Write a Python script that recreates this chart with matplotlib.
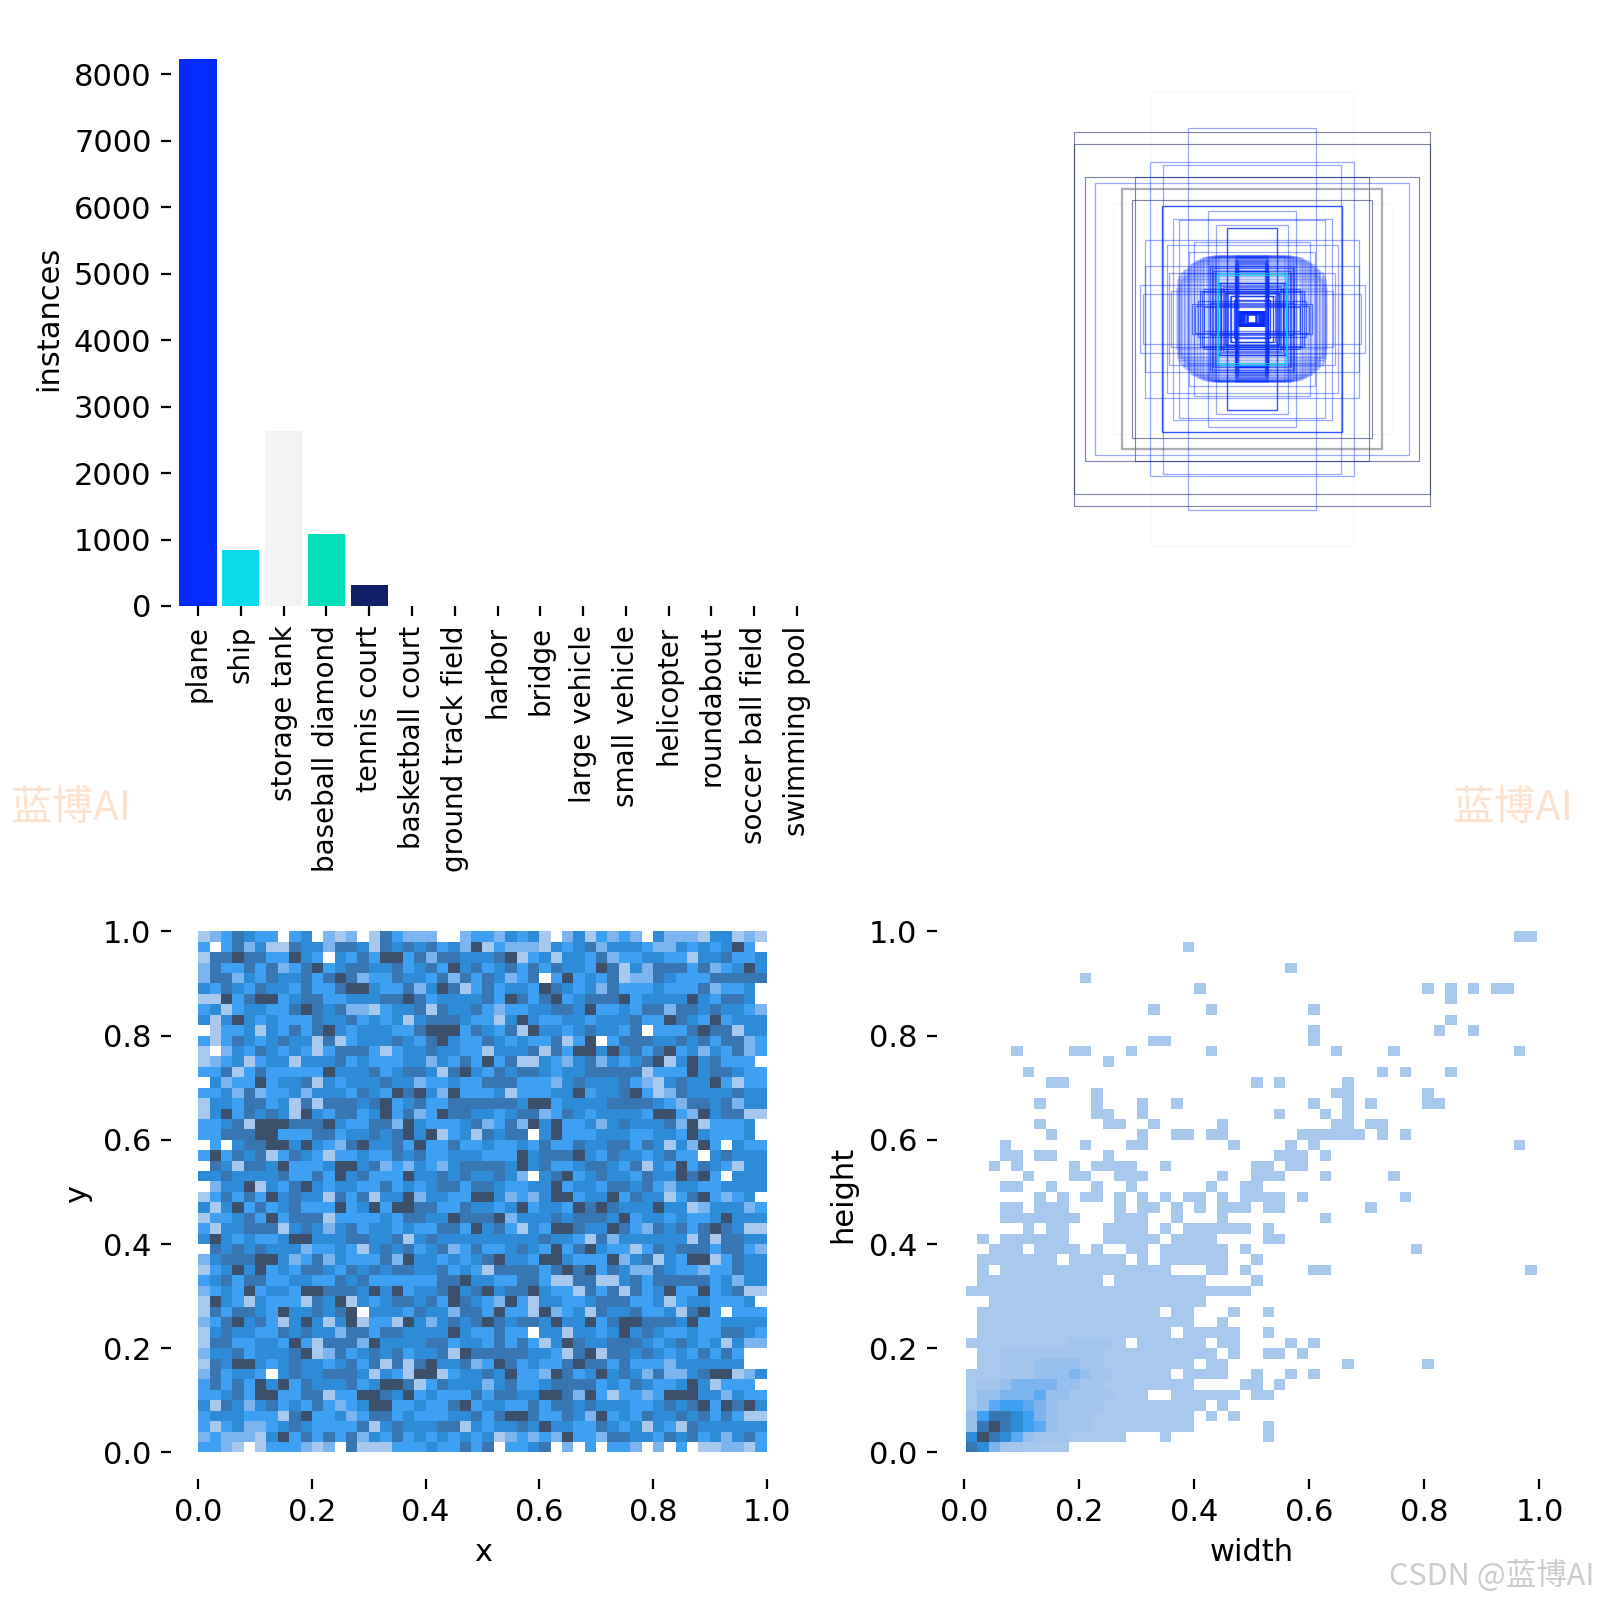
import matplotlib
matplotlib.use("Agg")
import matplotlib.pyplot as plt
import numpy as np
from matplotlib.colors import ListedColormap
from matplotlib.patches import Rectangle

plt.rcParams["font.size"] = 11

names = ["plane", "ship", "storage tank", "baseball diamond", "tennis court", "basketball court",
         "ground track field", "harbor", "bridge", "large vehicle", "small vehicle", "helicopter",
         "roundabout", "soccer ball field", "swimming pool"]
instances = [8233, 850, 2630, 1085, 320, 0, 0, 0, 0, 0, 0, 0, 0, 0, 0]
bar_colors = ["#042AFF", "#0BDBEB", "#F3F3F3", "#00DFB7", "#111F68"] + ["#042AFF"] * 10

# x/y histogram, darkness level per cell, top row first
xy_rows = [
    "1468766067 0414018644 4004 664767 1047164640 7444177141",
    "6068471187 7488718787 8674 916444 1767847776 4476767960",
    "1889886697 6076869968 4887 778916 7177684667 7661778667",
    "4866868468 9678877867 8697 867868 6877698174 8886846797",
    "4884768778 6898466877 6848 687468 0696768144 8766688888",
    "7687687768 6689976684 7981 686776 9876748666 7666846670",
    "1196899678 8667778898 6777 786986 8967888967 7779768870",
    "6716776689 8784416778 1877 864667 7887966768 8488787764",
    "7179767666 8778676717 8887 661797 6677677786 6987696777",
    "0166717686 8976777668 9996 876819 7767877680 6668988177",
    "6168767877 1816777876 8976 687676 6816906888 7787868846",
    "1047687676 1688861677 8776 617778 1869979786 8967476846",
    "1467167717 7786766677 4768 696811 7647847678 9179786660",
    "6681686666 6977786788 7189 768788 7677888881 6669788766",
    "0746696778 1767778774 6676 688866 6478777864 1787796166",
    "6674846674 7776876989 7496 667166 6779677896 1487777877",
    "1776886718 1888789678 6688 888879 9677778888 7648878477",
    "1796878719 7688679684 6988 776788 4687677776 9964978811",
    "6678199988 8976688497 6667 846849 7966747877 7849166670",
    "6688899666 8867787897 9167 187880 7966677766 7769766670",
    "0607889979 7648977869 6686 676676 8668778868 7174960766",
    "6968781687 6166766878 6677 766697 8889768776 7866078777",
    "0871887966 6799784647 6478 888797 8667887681 7696876177",
    "7787777866 8697866697 7878 778740 7896787768 7798960777",
    "0477917689 7677668676 7886 887667 7967768878 6477667777",
    "1686869787 7186817794 7766 997464 7996779687 7168964670",
    "7179686786 6696796998 8668 776796 7769898777 9771477746",
    "1667869688 8166667688 7798 889477 7878887967 7676679777",
    "6177888178 7478677676 6886 978617 6998779864 8786898711",
    "7976766799 7778877817 8777 777777 8776184777 7771818877",
    "0878787774 6676178786 7846 866787 6968976616 8788868864",
    "4788899746 8476668497 7676 789776 9976669478 1769916877",
    "1679796768 8768787887 7867 618888 6898968744 8766466877",
    "6786886677 6687866666 6889 776688 6118811786 8888867477",
    "4676967769 9888797967 7897 897889 7661868186 7966967811",
    "1976176661 8791767887 8698 764961 7766788866 7167766670",
    "1868876977 8789077768 7748 869661 9467187786 6718960666",
    "4689786179 7179166197 4787 898788 7977968998 8879667777",
    "1787766878 7748868877 7797 668660 7717767978 7667668876",
    "1886677696 1888497777 8867 768686 1798778887 6787671744",
    "4778677789 1486787867 7819 888887 7618918878 7676868600",
    "1879976787 7678681818 9778 469867 6689886866 6477777700",
    "4867760787 7888717619 9167 787966 4986797874 8447899147",
    "6868697968 7778679981 6877 747866 7888867687 6679716660",
    "6678699668 8166998796 7666 868877 9984961664 6999774766",
    "7187478676 8646799667 6689 677668 6887877766 7878969897",
    "6777666189 6674688676 6677 868998 6687496768 7787868611",
    "6167446787 6666817877 7881 767787 9776687671 7618777777",
    "4644417968 6868476867 6767 671464 6496648877 6878674786",
    "6641016664 1408111666 7668 680667 8040606640 4060114416",
]

# width/height histogram, same levels, top row first
wh_rows = [
    ".......... .......... .......... .......... ........11",
    ".......... .........1 .......... .......... ..........",
    ".......... .......... .......... .......... ..........",
    ".......... .......... ........1. .......... ..........",
    ".......... 1......... .......... .......... ..........",
    ".......... .......... 1......... .......... 1.1.1.11..",
    ".......... .......... .......... .......... ..1.......",
    ".......... ......1... .1........ 1......... ..........",
    ".......... .......... .......... .......... ..1.......",
    ".......... .......... .......... 1......... .1..1.....",
    ".......... ......11.. .......... 1......... ..........",
    "....1....1 1...1..... .1........ ..1....1.. ........1.",
    ".......... ..1....... .......... .......... ..........",
    ".....1.... .......... .......... ......1.1. ..1.......",
    ".......11. .......... .....1.1.. ...1...... ..........",
    ".......... .1........ .......... ..11...... 1.........",
    "......1... .1...1..1. .......... 1..1.1.... 11........",
    ".......... .11..1.... .......1.. .1.1...... ..........",
    "......1... ..11..1... ..1....... ..11.11... ..........",
    ".......1.. .....1..11 .11......1 11111.1.1. ..........",
    "...1...... 1...11.... ...1....1. 1......... ........1.",
    "...11.11.. ..1....... .......111 .1........ ..........",
    "..1.1....1 .1111..1.. .....11.11 .......... ..........",
    ".....1...1 1..111.... ..1..111.. .1.....1.. ..........",
    "...11..1.. .1..1..... .1..11.... .......... ..........",
    "......1.1. 11.1.1.1.1 1.1.1111.1 ........1. ..........",
    "...11.111. ...1.11.1. 1.111.11.. .....1.... ..........",
    "...1111111 ...111..1. ..1....... .1........ ..........",
    ".....1.11. ..1111.1.1 11111.1... .......... ..........",
    ".1.111111. ..11111.11 11....11.. .......... ..........",
    "..111.1111 .1..11.111 111.1..... .........1 ..........",
    ".1111111.1 1111.1.111 111..1.... .......... ..........",
    ".1.1111111 11111111.. .11.1..... 11........ .........1",
    ".111111111 11.1111111 1....1.... .......... ..........",
    "1111111111 1111111111 11111..... .......... ..........",
    "..11111111 1111111111 1......... .......... ..........",
    ".111111111 1111111.11 ...1..1... .......... ..........",
    ".111111111 1111111111 ..1....... .......... ..........",
    ".111111111 11111111.1 1111..1... .......... ..........",
    "1111111112 2221.11111 1.11....1. 1......... ..........",
    ".112222222 2211111111 11.1..11.1 .......... ..........",
    ".112223333 2211111111 .11....... ...1...... 1.........",
    "1112223334 32211111.1 111..1..1. 1......... ..........",
    "1223444433 2211111111 ....11.1.. .......... ..........",
    "1334445332 222111..11 1111.11... .......... ..........",
    "1356654322 2211111111 1.1....... .......... ..........",
    "3688764322 2111111111 .1.1...... .......... ..........",
    "3898765322 2111111111 ......1... .......... ..........",
    "7987532221 1111...1.. ......1... .......... ..........",
    "874221111. .......... .......... .......... ..........",
]

level_colors = ["#ffffff", "#a9c8ee", "#a3c5ee", "#98c0ee", "#7cb4ef", "#5aa9f2",
                "#3ea0f2", "#2e8bd8", "#3776b2", "#3c4f6b"]

# box sizes as a fraction of the square, all centred
dark_w = [.594, .594, .558, .399, .389]
dark_h = [.622, .583, .472, .398, .472]
gray_w = [.434]
gray_h = [.434]
light_w = [.524, .339, .214, .192, .358, .375, .362, .269, .276, .211, .146, .265, .242, .119, .356, .285, .297]
light_h = [.453, .524, .636, .256, .176, .113, .083, .093, .152, .222, .359, .335, .329, .315, .262, .246, .515]
deep_w = [.299, .082, .054, .112, .104, .09, .07, .06]
deep_h = [.376, .302, .16, .12, .1, .088, .078, .062]
faint_w = [.336, .465]
faint_h = [.758, .382]
cyan_w = [.118, .113]
cyan_h = [.153, .148]
halo_w = [.25, .248, .245, .242, .24, .238, .235, .232, .228, .225, .222, .218, .215, .21, .205, .2,
          .195, .19, .185, .18, .175, .17, .165, .16, .15, .145, .14, .135, .13, .125, .12, .11]
halo_h = [.10, .13, .115, .14, .15, .125, .155, .135, .16, .145, .165, .15, .17, .175, .18, .185,
          .187, .19, .192, .195, .197, .2, .202, .204, .206, .207, .208, .205, .209, .21, .207, .21]
band_w = [.054, .052, .05, .048, .046, .054, .05, .045, .052, .048]
band_h = [.211, .207, .203, .199, .195, .191, .187, .183, .179, .175]
mid_w = [.172, .168, .16, .139, .135, .13, .125, .108, .103, .098, .092, .086, .08, .075, .054, .052,
         .2, .19, .18, .16, .14, .12]
mid_h = [.094, .09, .1, .176, .17, .16, .152, .12, .11, .106, .1, .092, .086, .078, .16, .155,
         .05, .045, .06, .04, .052, .046]
core_w = [.042, .04, .038, .036, .034, .03, .026, .022, .016, .012]
core_h = [.024, .022, .023, .021, .024, .02, .018, .022, .016, .012]

FW, FH = 1600, 1600


def make_ax(fig, left, right, top, bottom):
    return fig.add_axes([left / FW, 1 - bottom / FH, (right - left) / FW, (bottom - top) / FH])


def clean(ax):
    for s in ax.spines.values():
        s.set_visible(False)


def add_boxes(ax, widths, heights, color, alpha, lw):
    for w, h in zip(widths, heights):
        ax.add_patch(Rectangle((0.5 - w / 2, 0.5 - h / 2), w, h, fill=False, ec=color, alpha=alpha, lw=lw))


def to_grid(rows):
    grid = []
    for row in rows:
        row = row.replace(" ", "").replace(".", "0")
        grid.append([int(c) for c in row])
    return np.array(grid)[::-1]


fig = plt.figure(figsize=(8, 8), dpi=200)
cmap = ListedColormap(level_colors)

# bars
ax = make_ax(fig, 171, 824, 31.6, 606)
ax.bar(range(len(names)), instances, width=0.87, color=bar_colors)
ax.set_xlim(-0.63, 14.63)
ax.set_ylim(0, 8645)
ax.set_xticks(range(len(names)))
ax.set_xticklabels(names, rotation=90, fontsize=10)
ax.set_ylabel("instances")
clean(ax)

# boxes
ax = make_ax(fig, 952, 1552, 19, 619)
ax.set_xlim(0, 1)
ax.set_ylim(0, 1)
ax.axis("off")
add_boxes(ax, faint_w, faint_h, "#F3F3F3", 0.6, 0.4)
add_boxes(ax, dark_w, dark_h, "#111F68", 0.55, 0.4)
add_boxes(ax, gray_w, gray_h, "#777788", 0.6, 0.8)
add_boxes(ax, light_w, light_h, "#042AFF", 0.4, 0.45)
add_boxes(ax, halo_w, halo_h, "#042AFF", 0.2, 0.7)
add_boxes(ax, band_w, band_h, "#042AFF", 0.25, 0.8)
add_boxes(ax, mid_w, mid_h, "#042AFF", 0.6, 0.45)
add_boxes(ax, deep_w, deep_h, "#042AFF", 0.8, 0.5)
add_boxes(ax, cyan_w, cyan_h, "#0BDBEB", 0.8, 0.4)
add_boxes(ax, core_w, core_h, "#042AFF", 0.9, 0.6)

ticks = [0.0, 0.2, 0.4, 0.6, 0.8, 1.0]

# x, y
ax = make_ax(fig, 171, 795, 909.5, 1478.5)
ax.pcolormesh(np.linspace(0, 1, 51), np.linspace(0, 1, 51), to_grid(xy_rows), cmap=cmap, vmin=-0.5, vmax=9.5)
ax.set_xlim(-0.048, 1.05)
ax.set_ylim(-0.05, 1.042)
ax.set_xticks(ticks)
ax.set_yticks(ticks)
ax.set_xlabel("x")
ax.set_ylabel("y")
clean(ax)

# width, height
ax = make_ax(fig, 936.5, 1567, 909.5, 1478.5)
ax.pcolormesh(np.linspace(0.003, 0.995, 51), np.linspace(0, 1, 51), to_grid(wh_rows), cmap=cmap, vmin=-0.5, vmax=9.5)
ax.set_xlim(-0.048, 1.048)
ax.set_ylim(-0.05, 1.042)
ax.set_xticks(ticks)
ax.set_yticks(ticks)
ax.set_xlabel("width")
ax.set_ylabel("height")
clean(ax)

# watermarks
cjk = ["Noto Sans CJK SC", "DejaVu Sans"]
fig.text(10 / FW, 1 - 820 / FH, "蓝博AI", color="#fde3cf", fontsize=15, family=cjk)
fig.text(1452 / FW, 1 - 820 / FH, "蓝博AI", color="#fde3cf", fontsize=15, family=cjk)
fig.text(1389 / FW, 1 - 1585 / FH, "CSDN @蓝博AI", color="#cccccc", fontsize=11, family=cjk)

fig.savefig("out.png", dpi=200)
